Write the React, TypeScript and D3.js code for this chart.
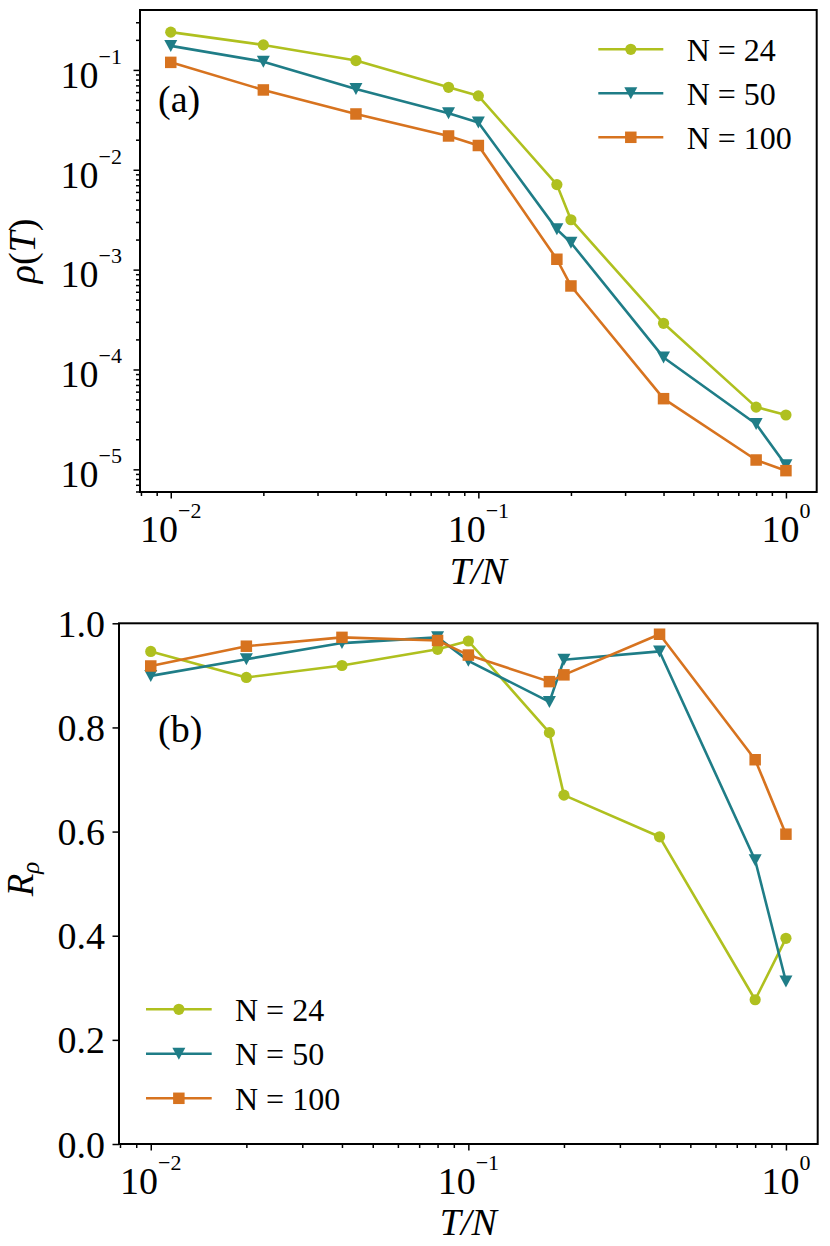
import { useEffect, useRef } from "react"
import * as d3 from "d3"

// T/N values shared by every series
const tOverN = [0.01, 0.02, 0.04, 0.08, 0.1, 0.18, 0.2, 0.4, 0.8, 1.0]

// panel (a): rho(T)
const rhoN24 = [0.239, 0.178, 0.124, 0.067, 0.055, 0.0071, 0.00316, 2.9e-4, 4.2e-5, 3.5e-5]
const rhoN50 = [0.174, 0.121, 0.0645, 0.0368, 0.0297, 0.00253, 0.00186, 1.32e-4, 2.84e-5, 1.1e-5]
const rhoN100 = [0.119, 0.063, 0.0362, 0.0218, 0.0175, 0.00127, 6.86e-4, 5.1e-5, 1.24e-5, 9.7e-6]

// panel (b): R_rho
const rN24 = [0.946, 0.896, 0.919, 0.95, 0.966, 0.79, 0.67, 0.59, 0.277, 0.395]
const rN50 = [0.899, 0.931, 0.962, 0.973, 0.928, 0.849, 0.93, 0.946, 0.545, 0.312]
const rN100 = [0.918, 0.956, 0.973, 0.967, 0.939, 0.888, 0.901, 0.979, 0.738, 0.595]

const seriesNames = ["N = 24", "N = 50", "N = 100"]
const seriesColors = ["#afc01f", "#1f7d87", "#d7731f"]
const seriesMarkers = ["circle", "triangle", "square"]

const rTicks = [0, 0.2, 0.4, 0.6, 0.8, 1.0]

const FONT = "'Liberation Serif', 'Times New Roman', 'DejaVu Serif', serif"

type Sel = d3.Selection<SVGGElement, unknown, null, undefined>

function markerPath(kind: string) {
  if (kind === "circle") return d3.symbol(d3.symbolCircle, Math.PI * 5.6 * 5.6)()!
  if (kind === "square") return d3.symbol(d3.symbolSquare, 11.5 * 11.5)()!
  // matplotlib "v" marker, centred on its bounding box
  const w = 13, h = 12
  return `M${-w / 2},${-h / 2}L${w / 2},${-h / 2}L0,${h / 2}Z`
}

const isPow10 = (v: number) => Math.abs(Math.log10(v) - Math.round(Math.log10(v))) < 1e-6

function powLabel(g: Sel, x: number, y: number, exp: number, anchor: string) {
  const t = g.append("text")
    .attr("x", x)
    .attr("y", y)
    .attr("text-anchor", anchor)
    .attr("font-family", FONT)
    .attr("font-size", 38)
  t.append("tspan").text("10")
  t.append("tspan")
    .attr("dy", -24)
    .attr("font-size", 22)
    .text(exp < 0 ? "\u2212" + Math.abs(exp) : String(exp))
}

function styleTicks(s: Sel) {
  s.select(".domain").remove()
  s.selectAll("line").attr("stroke", "#000").attr("stroke-width", 1.5)
}

function drawSeries(g: Sel, x: any, y: any, values: number[][]) {
  values.forEach((vals, i) => {
    const pts = tOverN.map((t, j) => [x(t), y(vals[j])] as [number, number])
    g.append("path")
      .attr("d", d3.line()(pts))
      .attr("fill", "none")
      .attr("stroke", seriesColors[i])
      .attr("stroke-width", 2.6)
      .attr("stroke-linejoin", "round")
    g.selectAll(null)
      .data(pts)
      .enter()
      .append("path")
      .attr("d", markerPath(seriesMarkers[i]))
      .attr("transform", d => `translate(${d[0]},${d[1]})`)
      .attr("fill", seriesColors[i])
  })
}

function drawLegend(g: Sel, x0: number, x1: number, y0: number, step: number, textX: number) {
  seriesNames.forEach((name, i) => {
    const y = y0 + i * step
    g.append("line")
      .attr("x1", x0).attr("x2", x1)
      .attr("y1", y).attr("y2", y)
      .attr("stroke", seriesColors[i])
      .attr("stroke-width", 2.6)
    g.append("path")
      .attr("d", markerPath(seriesMarkers[i]))
      .attr("transform", `translate(${(x0 + x1) / 2},${y})`)
      .attr("fill", seriesColors[i])
    g.append("text")
      .attr("x", textX)
      .attr("y", y + 11.5)
      .attr("font-family", FONT)
      .attr("font-size", 32)
      .text(name)
  })
}

export default function App() {

  const ref = useRef<SVGSVGElement | null>(null)

  useEffect(() => {

    const svg = d3.select(ref.current)
    svg.selectAll("*").remove()

    const root = svg.append("g") as unknown as Sel

    // ---------- panel (a) ----------
    const aL = 140, aR = 816.7, aT = 10, aB = 492
    const xA = d3.scaleLog().domain([10 ** -2.1, 10 ** 0.1]).range([aL, aR])
    const yA = d3.scaleLog().domain([10 ** -5.227, 10 ** -0.4]).range([aB, aT])

    const gA = root.append("g")

    const xTicksA = xA.ticks()
    const yTicksA = yA.ticks()

    gA.append("g")
      .attr("transform", `translate(0,${aB})`)
      .call(d3.axisBottom(xA).tickValues(xTicksA.filter(v => !isPow10(v))).tickSize(4).tickFormat(() => ""))
      .call(styleTicks)
    gA.append("g")
      .attr("transform", `translate(0,${aB})`)
      .call(d3.axisBottom(xA).tickValues(xTicksA.filter(isPow10)).tickSize(6.5).tickFormat(() => ""))
      .call(styleTicks)
    gA.append("g")
      .attr("transform", `translate(${aL},0)`)
      .call(d3.axisLeft(yA).tickValues(yTicksA.filter(v => !isPow10(v))).tickSize(4).tickFormat(() => ""))
      .call(styleTicks)
    gA.append("g")
      .attr("transform", `translate(${aL},0)`)
      .call(d3.axisLeft(yA).tickValues(yTicksA.filter(isPow10)).tickSize(6.5).tickFormat(() => ""))
      .call(styleTicks)

    xTicksA.filter(isPow10).forEach(v => powLabel(gA, xA(v), aB + 49.5, Math.round(Math.log10(v)), "middle"))
    yTicksA.filter(isPow10).forEach(v => powLabel(gA, 122, yA(v) + 17.8, Math.round(Math.log10(v)), "end"))

    drawSeries(gA, xA, yA, [rhoN24, rhoN50, rhoN100])

    gA.append("rect")
      .attr("x", aL).attr("y", aT)
      .attr("width", aR - aL).attr("height", aB - aT)
      .attr("fill", "none").attr("stroke", "#000").attr("stroke-width", 2)

    drawLegend(gA, 598.3, 663.3, 49.3, 44, 686.7)

    gA.append("text")
      .attr("x", 158).attr("y", 111.5)
      .attr("font-family", FONT).attr("font-size", 38)
      .text("(a)")

    gA.append("text")
      .attr("x", (aL + aR) / 2).attr("y", 584)
      .attr("text-anchor", "middle")
      .attr("font-family", FONT).attr("font-size", 38).attr("font-style", "italic")
      .text("T/N")

    const yLabA = gA.append("text")
      .attr("transform", `translate(35,${(aT + aB) / 2}) rotate(-90)`)
      .attr("text-anchor", "middle")
      .attr("font-family", FONT).attr("font-size", 38)
    yLabA.append("tspan").attr("font-style", "italic").text("ρ")
    yLabA.append("tspan").text("(")
    yLabA.append("tspan").attr("font-style", "italic").text("T")
    yLabA.append("tspan").text(")")

    // ---------- panel (b) ----------
    const bL = 119, bR = 817.7, bT = 623.3, bB = 1144
    const xB = d3.scaleLog().domain([10 ** -2.1, 10 ** 0.1]).range([bL, bR])
    const yB = d3.scaleLinear().domain([0, 1]).range([bB, bT])

    const gB = root.append("g")
    const xTicksB = xB.ticks()

    gB.append("g")
      .attr("transform", `translate(0,${bB})`)
      .call(d3.axisBottom(xB).tickValues(xTicksB.filter(v => !isPow10(v))).tickSize(4).tickFormat(() => ""))
      .call(styleTicks)
    gB.append("g")
      .attr("transform", `translate(0,${bB})`)
      .call(d3.axisBottom(xB).tickValues(xTicksB.filter(isPow10)).tickSize(6.5).tickFormat(() => ""))
      .call(styleTicks)
    gB.append("g")
      .attr("transform", `translate(${bL},0)`)
      .call(d3.axisLeft(yB).tickValues(rTicks).tickSize(6.5).tickFormat(() => ""))
      .call(styleTicks)

    xTicksB.filter(isPow10).forEach(v => powLabel(gB, xB(v), bB + 49.5, Math.round(Math.log10(v)), "middle"))
    rTicks.forEach(v => {
      gB.append("text")
        .attr("x", 105).attr("y", yB(v) + 13.5)
        .attr("text-anchor", "end")
        .attr("font-family", FONT).attr("font-size", 38)
        .text(d3.format(".1f")(v))
    })

    drawSeries(gB, xB, yB, [rN24, rN50, rN100])

    gB.append("rect")
      .attr("x", bL).attr("y", bT)
      .attr("width", bR - bL).attr("height", bB - bT)
      .attr("fill", "none").attr("stroke", "#000").attr("stroke-width", 2)

    drawLegend(gB, 146, 211.7, 1009.3, 44.5, 235)

    gB.append("text")
      .attr("x", 158).attr("y", 741.5)
      .attr("font-family", FONT).attr("font-size", 38)
      .text("(b)")

    gB.append("text")
      .attr("x", (bL + bR) / 2).attr("y", 1235)
      .attr("text-anchor", "middle")
      .attr("font-family", FONT).attr("font-size", 38).attr("font-style", "italic")
      .text("T/N")

    const yLabB = gB.append("text")
      .attr("transform", `translate(33.3,879) rotate(-90)`)
      .attr("text-anchor", "middle")
      .attr("font-family", FONT).attr("font-size", 37).attr("font-style", "italic")
    yLabB.append("tspan").text("R")
    yLabB.append("tspan").attr("dy", 6).attr("font-size", 25).text("ρ")

  }, [])

  return (
    <svg
      ref={ref}
      width={830}
      height={1246}
      style={{ position: "absolute", left: 0, top: 0, background: "#fff", display: "block" }}
    />
  )
}
